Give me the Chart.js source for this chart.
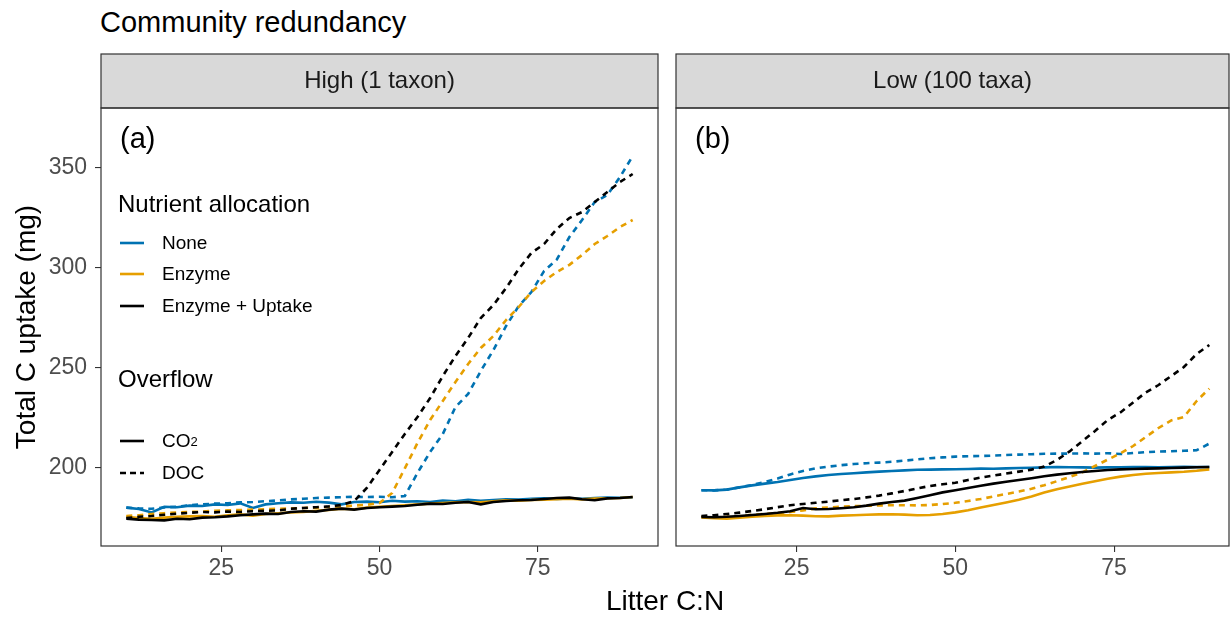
<!DOCTYPE html>
<html>
<head>
<meta charset="utf-8">
<script src="https://cdn.jsdelivr.net/npm/chart.js@4.4.0/dist/chart.umd.min.js"></script>
<style>
  body { margin: 0; background: #fff; font-family: "Liberation Sans", Arial, sans-serif; }
  #wrap { position: relative; width: 1230px; height: 619px; overflow: hidden; }
  canvas { position: absolute; top: 0; }
  #chart-a { left: 0; }
  #chart-b { left: 665px; }
  .txt { position: absolute; white-space: nowrap; color: #000; }
  #title { left: 100px; top: 6px; font-size: 29px; line-height: 32px; }
  #xtitle { left: 515px; width: 300px; text-align: center; top: 585px; font-size: 28px; line-height: 32px; }
  .lt { position: absolute; left: 118px; font-size: 24px; line-height: 26px; }
  .li { position: absolute; left: 120px; height: 24px; display: flex; align-items: center; font-size: 19px; }
  .li svg { margin-right: 18px; }
  sub { font-size: 13px; vertical-align: -4px; }
</style>
</head>
<body>
<div id="wrap">
  <div id="title" class="txt">Community redundancy</div>
  <canvas id="chart-a" width="665" height="619"></canvas>
  <canvas id="chart-b" width="565" height="619"></canvas>
  <div id="xtitle" class="txt">Litter C:N</div>

  <div class="lt" style="top:191px">Nutrient allocation</div>
  <div class="li" style="top:231px"><svg width="24" height="4"><line x1="0" y1="2" x2="24" y2="2" stroke="#0072B2" stroke-width="2.6"/></svg>None</div>
  <div class="li" style="top:262px"><svg width="24" height="4"><line x1="0" y1="2" x2="24" y2="2" stroke="#E69F00" stroke-width="2.6"/></svg>Enzyme</div>
  <div class="li" style="top:294px"><svg width="24" height="4"><line x1="0" y1="2" x2="24" y2="2" stroke="#000" stroke-width="2.6"/></svg>Enzyme + Uptake</div>
  <div class="lt" style="top:366px">Overflow</div>
  <div class="li" style="top:429px"><svg width="24" height="4"><line x1="0" y1="2" x2="24" y2="2" stroke="#000" stroke-width="2.6"/></svg>CO<sub>2</sub></div>
  <div class="li" style="top:461px"><svg width="24" height="4"><line x1="0" y1="2" x2="24" y2="2" stroke="#000" stroke-width="2.6" stroke-dasharray="6 4"/></svg>DOC</div>
</div>
<script>
Chart.defaults.font.family = '"Liberation Sans", Arial, sans-serif';

// litter C:N values and axis ticks
var xValues = [10, 12, 14, 16, 18, 20, 22, 24, 26, 28, 30, 32, 34, 36, 38, 40, 42, 44, 46, 48, 50,
               52, 54, 56, 58, 60, 62, 64, 66, 68, 70, 72, 74, 76, 78, 80, 82, 84, 86, 88, 90];
var xTicks = [25, 50, 75];
var yTicks = [200, 250, 300, 350];

// High redundancy (1 taxon)
var highNoneCO2 = [180.2, 179.5, 177.8, 180.6, 180.4, 181.2, 181.0, 181.8, 181.5, 182.3, 180.0, 181.8, 182.4, 182.8, 182.6, 183.1, 182.7, 181.8, 183.0, 183.2, 182.9,
                   183.6, 183.2, 183.4, 183.0, 183.7, 183.4, 184.1, 183.6, 184.0, 184.4, 184.2, 184.6, 184.9, 184.5, 184.8, 184.6, 185.0, 185.2, 185.1, 185.4];
var highEnzymeCO2 = [175.6, 175.0, 174.6, 175.2, 175.6, 175.8, 176.0, 175.6, 176.4, 176.8, 176.2, 177.0, 177.4, 177.8, 178.0, 178.6, 179.0, 179.6, 179.4, 180.2, 180.6,
                     181.0, 181.4, 181.8, 182.2, 182.5, 182.8, 183.0, 182.9, 183.4, 183.8, 183.6, 184.0, 184.2, 184.4, 184.6, 184.3, 184.7, 184.9, 185.0, 185.5];
var highUptakeCO2 = [174.7, 174.2, 174.0, 173.8, 174.6, 174.4, 175.2, 175.4, 175.8, 176.4, 176.8, 177.2, 177.0, 178.0, 178.4, 178.2, 179.2, 179.7, 179.2, 180.0, 180.4,
                     180.7, 181.0, 181.6, 182.2, 182.0, 182.6, 183.0, 181.8, 183.0, 183.5, 183.9, 184.0, 184.5, 185.0, 185.2, 184.4, 183.9, 184.8, 185.0, 185.5];
var highNoneDOC = [180.2, 179.8, 179.6, 180.3, 180.6, 181.4, 181.8, 182.2, 182.4, 182.8, 183.0, 183.4, 183.8, 184.3, 184.6, 185.0, 185.2, 185.4, 185.6, 185.5, 185.6,
                   185.4, 186.0, 197.5, 208.0, 217.0, 230.5, 237.0, 248.5, 259.0, 271.0, 281.0, 288.0, 298.5, 304.2, 315.5, 324.0, 333.0, 336.5, 345.5, 356.0];
var highEnzymeDOC = [176.0, 176.4, 177.0, 177.4, 177.8, 178.0, 178.2, 178.6, 178.8, 179.0, 179.2, 179.4, 179.6, 179.8, 180.0, 180.2, 180.5, 180.8, 181.2, 181.6, 182.5,
                     187.5, 199.8, 212.5, 224.0, 233.5, 243.0, 252.0, 260.0, 266.0, 274.0, 280.5, 288.0, 293.5, 298.0, 301.6, 306.5, 312.0, 316.0, 320.5, 324.0];
var highUptakeDOC = [175.0, 175.6, 176.0, 176.6, 177.2, 177.6, 178.0, 177.8, 178.2, 178.0, 178.4, 178.6, 178.8, 179.6, 180.0, 180.4, 180.8, 181.5, 183.5, 190.0, 199.0,
                     208.0, 217.0, 225.5, 235.0, 246.0, 256.0, 265.0, 275.0, 281.5, 290.0, 299.5, 307.5, 312.0, 319.5, 325.0, 328.0, 333.0, 338.0, 343.0, 347.0];

// Low redundancy (100 taxa)
var lowNoneCO2 = [188.9, 188.8, 189.2, 190.3, 191.3, 192.2, 193.0, 194.0, 195.0, 195.8, 196.5, 197.0, 197.4, 197.8, 198.2, 198.5, 198.8, 199.1, 199.2, 199.3, 199.4,
                  199.5, 199.7, 199.6, 199.8, 200.0, 200.1, 200.3, 200.5, 200.4, 200.3, 200.2, 200.3, 200.4, 200.5, 200.5, 200.4, 200.5, 200.6, 200.5, 200.5];
var lowEnzymeCO2 = [175.3, 174.9, 174.7, 175.2, 175.7, 176.0, 176.3, 176.4, 176.2, 175.9, 175.8, 176.2, 176.4, 176.6, 176.8, 176.9, 176.7, 176.4, 176.5, 177.0, 177.8,
                    178.9, 180.2, 181.5, 182.8, 184.1, 185.8, 187.7, 189.4, 190.8, 192.1, 193.4, 194.6, 195.7, 196.5, 197.1, 197.5, 197.8, 198.1, 198.6, 199.3];
var lowUptakeCO2 = [175.5, 175.4, 175.6, 176.0, 176.5, 177.0, 177.6, 178.4, 180.0, 179.4, 179.5, 179.9, 180.4, 181.2, 182.2, 183.0, 183.7, 185.0, 186.4, 187.8, 188.9,
                    190.0, 191.1, 192.2, 193.1, 194.0, 194.9, 195.9, 196.7, 197.4, 198.0, 198.5, 199.0, 199.3, 199.5, 199.7, 199.8, 200.0, 200.2, 200.4, 200.5];
var lowNoneDOC = [188.9, 188.8, 189.2, 190.3, 191.5, 193.0, 194.7, 196.8, 198.5, 199.8, 200.7, 201.4, 202.0, 202.4, 202.7, 203.1, 203.7, 204.3, 204.9, 205.3, 205.7,
                  205.9, 206.0, 206.2, 206.5, 206.7, 206.9, 207.1, 207.2, 207.2, 207.3, 207.2, 207.4, 207.0, 207.5, 207.9, 208.2, 208.4, 208.6, 208.9, 212.2];
var lowEnzymeDOC = [175.5, 175.3, 175.6, 176.0, 176.6, 177.0, 177.5, 178.0, 178.8, 179.8, 180.3, 180.6, 180.9, 181.1, 181.3, 181.4, 181.4, 181.3, 181.5, 182.0, 182.6,
                    183.5, 184.5, 185.8, 187.0, 188.2, 189.6, 191.4, 193.4, 195.5, 197.8, 201.0, 204.2, 207.3, 211.0, 215.5, 220.0, 223.8, 225.5, 233.5, 239.7];
var lowUptakeDOC = [176.0, 176.4, 177.0, 177.7, 178.5, 179.4, 180.4, 181.4, 182.0, 182.6, 183.2, 183.9, 184.5, 185.3, 186.2, 187.3, 188.5, 189.8, 191.0, 191.9, 192.6,
                    194.0, 195.2, 196.2, 197.2, 198.2, 199.2, 200.7, 204.0, 208.3, 213.4, 218.5, 224.0, 227.8, 232.8, 237.8, 241.5, 246.0, 250.5, 257.0, 261.5];

var BLUE = '#0072B2', ORANGE = '#E69F00', BLACK = '#000000';

function series(values, color, dashed) {
    return {
        data: xValues.map(function (x, i) { return { x: x, y: values[i] }; }),
        borderColor: color,
        borderWidth: 2.6,
        borderDash: dashed ? [6, 5] : [],
        pointRadius: 0,
        tension: 0,
        fill: false
    };
}

// strip, panel border and panel tag
var facetPlugin = {
    id: 'facet',
    afterDraw: function (chart, args, opts) {
        var ctx = chart.ctx, a = chart.chartArea;
        ctx.save();
        ctx.fillStyle = '#d9d9d9';
        ctx.strokeStyle = '#333333';
        ctx.lineWidth = 1.2;
        ctx.fillRect(a.left, 54, a.right - a.left, a.top - 54);
        ctx.strokeRect(a.left, 54, a.right - a.left, a.top - 54);
        ctx.strokeRect(a.left, a.top, a.right - a.left, a.bottom - a.top);
        ctx.fillStyle = '#1a1a1a';
        ctx.font = '24px "Liberation Sans", Arial, sans-serif';
        ctx.textAlign = 'center';
        ctx.textBaseline = 'middle';
        ctx.fillText(opts.strip, (a.left + a.right) / 2, (54 + a.top) / 2);
        ctx.fillStyle = '#000';
        ctx.font = '29px "Liberation Sans", Arial, sans-serif';
        ctx.textAlign = 'left';
        ctx.fillText(opts.tag, a.left + 19, 140);
        ctx.restore();
    }
};

function panelOptions(showY, strip, tag, padLeft, padRight, xMax) {
    return {
        responsive: false,
        animation: false,
        layout: { padding: { top: 108, right: padRight, bottom: 33, left: padLeft } },
        plugins: {
            legend: { display: false },
            tooltip: { enabled: false },
            facet: { strip: strip, tag: tag }
        },
        scales: {
            x: {
                type: 'linear',
                min: 6,
                max: xMax,
                afterBuildTicks: function (s) { s.ticks = xTicks.map(function (v) { return { value: v }; }); },
                afterFit: function (s) { s.height = 40; },
                grid: { drawOnChartArea: false, tickLength: 6, tickColor: '#333333', lineWidth: 1.1 },
                border: { display: false },
                ticks: { color: '#4d4d4d', font: { size: 23 }, padding: 3, maxRotation: 0 }
            },
            y: {
                type: 'linear',
                display: showY,
                min: 161,
                max: 380,
                afterBuildTicks: function (s) { s.ticks = yTicks.map(function (v) { return { value: v }; }); },
                afterFit: function (s) { s.width = showY ? 101 : 0; },
                grid: { drawOnChartArea: false, tickLength: 6, tickColor: '#333333', lineWidth: 1.1 },
                border: { display: false },
                ticks: { color: '#4d4d4d', font: { size: 23 }, padding: 8 },
                title: { display: true, text: 'Total C uptake (mg)', color: '#000', font: { size: 28 }, padding: { top: 10, bottom: 0 } }
            }
        }
    };
}

// High (1 taxon)
new Chart(document.getElementById('chart-a'), {
    type: 'line',
    data: {
        datasets: [
            series(highUptakeDOC, BLACK, true),
            series(highUptakeCO2, BLACK, false),
            series(highEnzymeDOC, ORANGE, true),
            series(highEnzymeCO2, ORANGE, false),
            series(highNoneDOC, BLUE, true),
            series(highNoneCO2, BLUE, false)
        ]
    },
    options: panelOptions(true, 'High (1 taxon)', '(a)', 0, 7, 94),
    plugins: [facetPlugin]
});

// Low (100 taxa) - right panel is cut by the image edge
new Chart(document.getElementById('chart-b'), {
    type: 'line',
    data: {
        datasets: [
            series(lowUptakeDOC, BLACK, true),
            series(lowUptakeCO2, BLACK, false),
            series(lowEnzymeDOC, ORANGE, true),
            series(lowEnzymeCO2, ORANGE, false),
            series(lowNoneDOC, BLUE, true),
            series(lowNoneCO2, BLUE, false)
        ]
    },
    options: panelOptions(false, 'Low (100 taxa)', '(b)', 11, 1, 93.1),
    plugins: [facetPlugin]
});
</script>
</body>
</html>
